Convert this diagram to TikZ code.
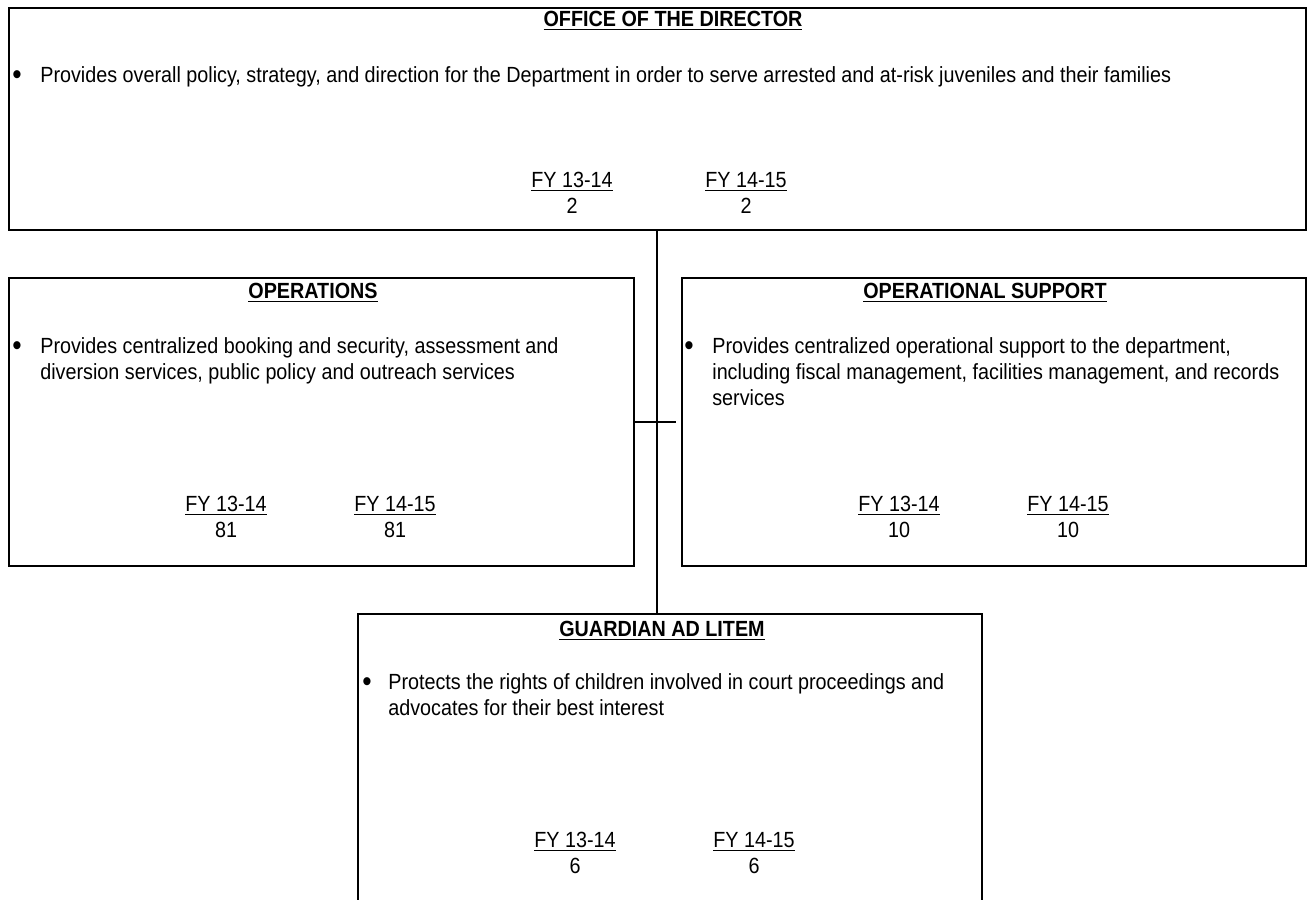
\documentclass[tikz,border=0pt]{standalone}
\usepackage{fontspec}
\setmainfont{Liberation Sans}[FakeStretch=0.9]
\usetikzlibrary{positioning, calc}
\newcommand{\unitfont}{\fontsize{12.5}{14.8}\selectfont}
\newcommand{\bigdot}{\strut\raisebox{-0.9pt}{\scalebox{1.35}{\textbullet}}}
\tikzset{
  unitbox/.style={
    rectangle, draw=black, line width=1pt, anchor=north west, inner sep=0pt
  },
  unittitle/.style={font=\unitfont\bfseries, inner sep=0pt, anchor=center},
  bulletdot/.style={font=\unitfont, inner sep=0pt, anchor=north west},
  unittext/.style={font=\unitfont, align=left, inner sep=0pt, anchor=north west},
  fylabel/.style={font=\unitfont, align=center, inner sep=0pt, anchor=north},
  conn/.style={line width=1pt}
}

\begin{document}
\begin{tikzpicture}[x=0.02cm, y=0.02cm]
\useasboundingbox (0,0) rectangle (1307,-899);

% Boxes
\node[unitbox, minimum width=25.94cm, minimum height=4.44cm] (director) at (8,-7) {};
\node[unitbox, minimum width=12.5cm, minimum height=5.76cm] (ops) at (8,-277) {};
\node[unitbox, minimum width=12.48cm, minimum height=5.76cm] (support) at (681,-277) {};
\node[unitbox, minimum width=12.48cm, minimum height=6cm] (gal) at (357,-613) {};

% Office of the Director
\node[unittitle] (dirtitle) at ([shift={(665,-14)}]director.north west) {\underline{OFFICE OF THE DIRECTOR}};
\node[bulletdot] (dirdot) at ([shift={(4,-57)}]director.north west) {\bigdot};
\node[unittext] (dirtext) at ([shift={(32,-57)}]director.north west) {\strut Provides overall policy, strategy, and direction for the Department in order to serve arrested and at-risk juveniles and their families};
\node[fylabel] (dirfy1) at ([shift={(564,-162)}]director.north west) {\strut\underline{FY 13-14}\\2};
\node[fylabel] (dirfy2) at ([shift={(738,-162)}]director.north west) {\strut\underline{FY 14-15}\\2};

% Operations
\node[unittitle] (opstitle) at ([shift={(305,-16)}]ops.north west) {\underline{OPERATIONS}};
\node[bulletdot] (opsdot) at ([shift={(4,-58)}]ops.north west) {\bigdot};
\node[unittext] (opstext) at ([shift={(32,-58)}]ops.north west) {\strut Provides centralized booking and security, assessment and\\diversion services, public policy and outreach services};
\node[fylabel] (opsfy1) at ([shift={(218,-216)}]ops.north west) {\strut\underline{FY 13-14}\\81};
\node[fylabel] (opsfy2) at ([shift={(387,-216)}]ops.north west) {\strut\underline{FY 14-15}\\81};

% Operational Support
\node[unittitle] (suptitle) at ([shift={(304,-16)}]support.north west) {\underline{OPERATIONAL SUPPORT}};
\node[bulletdot] (supdot) at ([shift={(3,-58)}]support.north west) {\bigdot};
\node[unittext] (suptext) at ([shift={(31,-58)}]support.north west) {\strut Provides centralized operational support to the department,\\including fiscal management, facilities management, and records\\services};
\node[fylabel] (supfy1) at ([shift={(218,-216)}]support.north west) {\strut\underline{FY 13-14}\\10};
\node[fylabel] (supfy2) at ([shift={(387,-216)}]support.north west) {\strut\underline{FY 14-15}\\10};

% Guardian ad Litem
\node[unittitle] (galtitle) at ([shift={(305,-18)}]gal.north west) {\underline{GUARDIAN AD LITEM}};
\node[bulletdot] (galdot) at ([shift={(5,-58)}]gal.north west) {\bigdot};
\node[unittext] (galtext) at ([shift={(31,-58)}]gal.north west) {\strut Protects the rights of children involved in court proceedings and\\advocates for their best interest};
\node[fylabel] (galfy1) at ([shift={(218,-216)}]gal.north west) {\strut\underline{FY 13-14}\\6};
\node[fylabel] (galfy2) at ([shift={(397,-216)}]gal.north west) {\strut\underline{FY 14-15}\\6};

% Connectors
\coordinate (tee) at ([xshift=-3]support.west |- 0,-422);
\draw[conn] (director.south) -- (director.south |- gal.north);
\draw[conn] (ops.east |- tee) -- (tee);
\end{tikzpicture}
\end{document}
